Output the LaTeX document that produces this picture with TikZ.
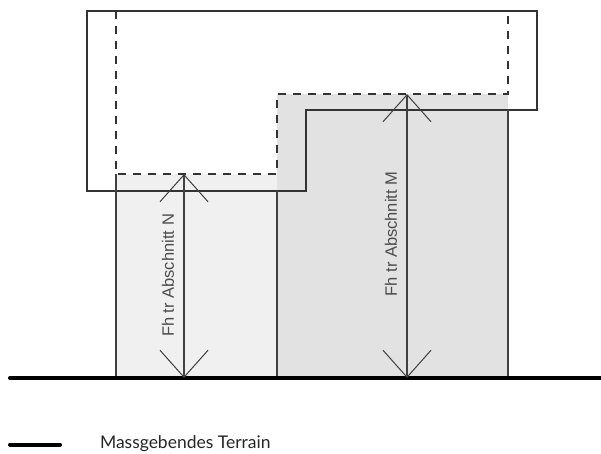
\documentclass[tikz,border=0pt]{standalone}
\usepackage{fontspec}
\setmainfont{Lato}
\newfontfamily\labelfont{Liberation Sans}
\usetikzlibrary{arrows.meta}
\begin{document}
\begin{tikzpicture}[x=1pt,y=-1pt,inner sep=0pt,outer sep=0pt,line width=1pt,
wall/.style={draw=black!75,line width=1.1pt},
outline/.style={draw=black!80,line width=1.1pt},
dimline/.style={draw=black!75,line width=1.1pt,{Straight Barb[length=27pt,width=48pt,line width=1pt]}-{Straight Barb[length=27pt,width=48pt,line width=1pt]}},
roofline/.style={draw=black!80,line width=1.1pt,dash pattern=on 8pt off 7pt},
ground/.style={draw=black,line width=4pt,line cap=round},
dimlabel/.style={rotate=90,font=\labelfont\fontsize{16.5}{18}\selectfont,text=black!70},
sectionN/.style={fill=black!6},
sectionM/.style={fill=black!11.5}]
\useasboundingbox (0,0) rectangle (601,454);
\fill[sectionN] (116,174) rectangle (277,378);
\fill[sectionM] (277,94) rectangle (508,378);
% building outline
\draw[outline] (87,11) -- (537,11) -- (537,110) -- (306,110) -- (306,191) -- (87,191) -- cycle;
% walls
\coordinate (Nleft) at (116,174);
\coordinate (Nmid) at (277,191);
\coordinate (Mright) at (508,110);
\coordinate (Nleftg) at (116,378);
\coordinate (Nmidg) at (277,378);
\coordinate (Mrightg) at (508,378);
\draw[wall] (Nleft) -- (Nleftg);
\draw[wall] (Nmid) -- (Nmidg);
\draw[wall] (Mright) -- (Mrightg);
% upper edge of the sections
\draw[roofline] (116,11) -- (116,174) -- (277,174) -- (277,94) -- (508,94) -- (508,11);
% ground
\coordinate (gl) at (10,378);
\coordinate (gr) at (601,378);
\draw[ground] (gl) -- (gr);
% heights
\coordinate (Ntop) at (184,174);
\coordinate (Nbot) at (184,378);
\coordinate (Mtop) at (407,94);
\coordinate (Mbot) at (407,378);
\draw[dimline] (Ntop) -- (Nbot);
\draw[dimline] (Mtop) -- (Mbot);
\node[dimlabel] (Nlabel) at (168,275.5) {Fh tr Abschnitt N};
\node[dimlabel] (Mlabel) at (391,234) {Fh tr Abschnitt M};
% legend
\coordinate (ll) at (10,444.5);
\coordinate (lr) at (60,444.5);
\draw[ground] (ll) -- (lr);
\node[anchor=west,font=\fontsize{17.5}{20}\selectfont,text=black!85] (legend) at (100,444) {Massgebendes Terrain};
\end{tikzpicture}
\end{document}
